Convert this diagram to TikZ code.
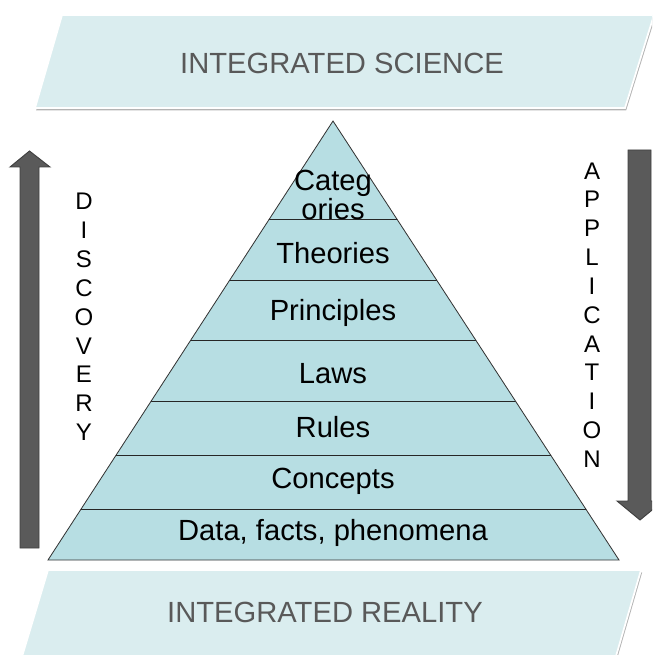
\documentclass[tikz,border=0pt]{standalone}
\usepackage{fontspec}
\setmainfont{Liberation Sans}
\usetikzlibrary{shadows}

\definecolor{bandfill}{HTML}{DAEDEF}
\definecolor{pyrfill}{HTML}{B7DEE3}
\definecolor{bandtext}{HTML}{595959}
\definecolor{arrowfill}{HTML}{5A5A5A}

\tikzset{
  band/.style={fill=bandfill, draw=white, line width=1.5pt,
    drop shadow={shadow xshift=1pt, shadow yshift=-2pt, fill=black!50, opacity=0.6}},
  bandlabel/.style={font=\fontsize{24.9}{28}\selectfont, text=bandtext},
  layer/.style={font=\fontsize{24.9}{22.2}\selectfont, align=center, inner sep=0pt},
  bigarrow/.style={fill=arrowfill, draw=black!75, line width=0.8pt},
  vword/.style={font=\fontsize{20.5}{24.6}\selectfont, align=center, inner sep=0pt}
}

\begin{document}
\begin{tikzpicture}[x=0.03cm,y=-0.03cm]
\useasboundingbox (0,0) rectangle (652,655);
\clip (0,0) rectangle (652,655);

% the two slanted bands
\fill[band] (62,15) -- (654,15) -- (625,108) -- (35,108) -- cycle;
\node[bandlabel] (science) at (342,63) {INTEGRATED SCIENCE};
\fill[band] (48,570) -- (641,570) -- (612,670) -- (18,670) -- cycle;
\node[bandlabel] (reality) at (325,612) {INTEGRATED REALITY};

% pyramid and its layers
\fill[pyrfill] (333,121) -- (619,560) -- (48,560) -- cycle;
\begin{scope}
\clip (333,121) -- (619,560) -- (48,560) -- cycle;
\foreach \y in {219,280,340,401,455,509}
  \draw[black!85, line width=0.7pt] (0,\y) -- (652,\y);
\end{scope}
\draw[black!80, line width=0.7pt] (333,121) -- (619,560) -- (48,560) -- cycle;

\node[layer] (cat)  at (333,195) {Categ\\ories};
\node[layer] (theo) at (333,253) {Theories};
\node[layer] (prin) at (333,313) {Principles};
\node[layer] (laws) at (333,374) {Laws};
\node[layer] (rules) at (333,427) {Rules};
\node[layer] (conc) at (333,481) {Concepts};
\node[layer] (data) at (333,533) {Data, facts, phenomena};

% side arrows
\filldraw[bigarrow] (20,548) -- (20,167) -- (10,167) -- (29.5,151) -- (50,167)
  -- (39,167) -- (39,548) -- cycle;
\filldraw[bigarrow] (628,150) -- (651,150) -- (651,501) -- (663,501) -- (640,520)
  -- (617,501) -- (628,501) -- cycle;

\node[vword] (disc) at (84,317) {D\\I\\S\\C\\O\\V\\E\\R\\Y};
\node[vword] (appl) at (592,315) {A\\P\\P\\L\\I\\C\\A\\T\\I\\O\\N};
\end{tikzpicture}
\end{document}
